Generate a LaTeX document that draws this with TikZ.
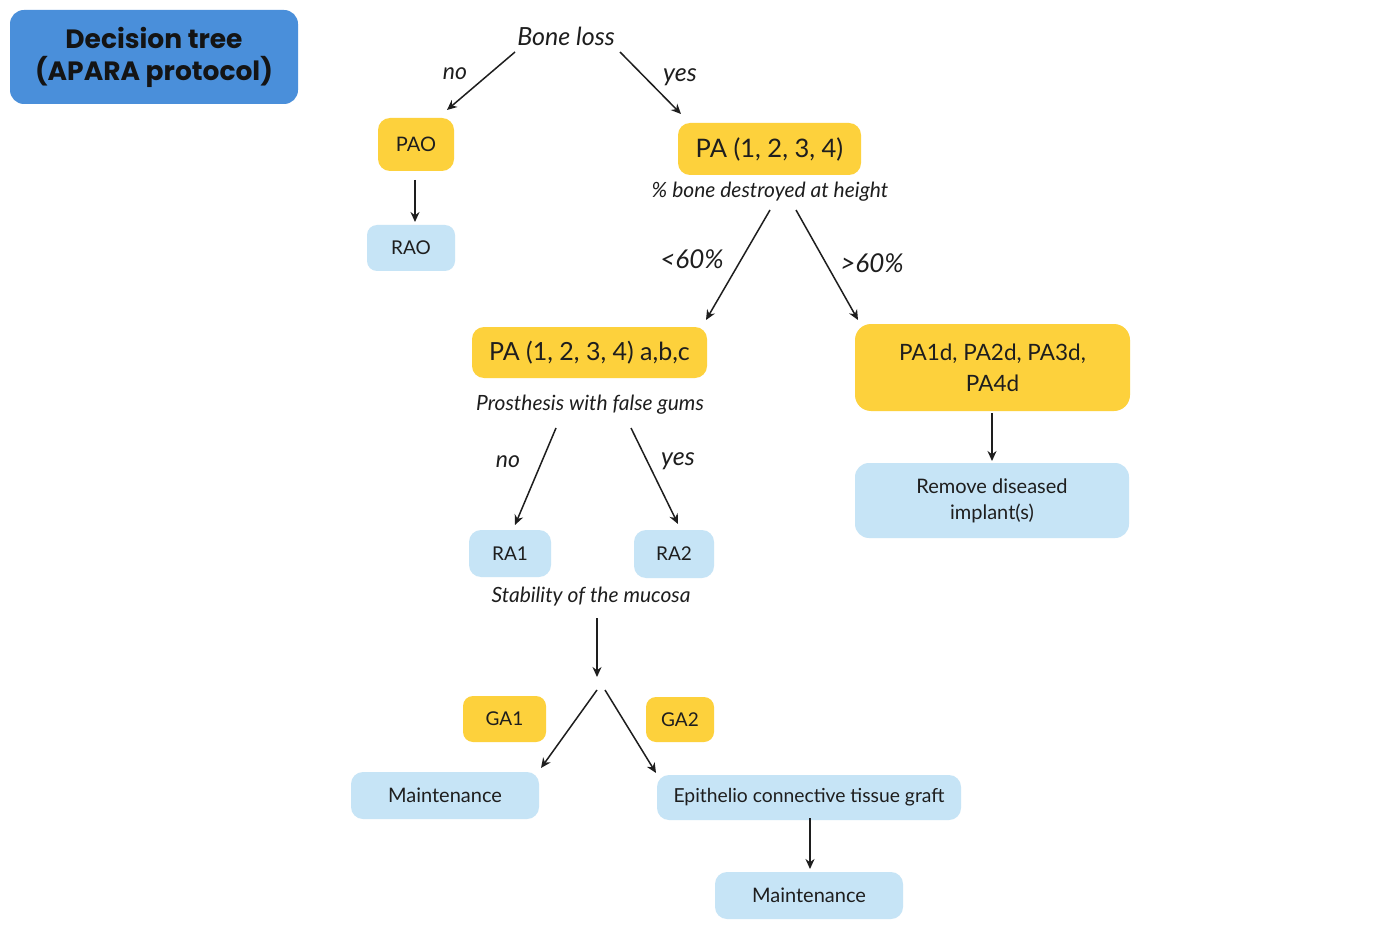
\documentclass[tikz,border=0pt]{standalone}
\usepackage{fontspec}
\setmainfont{Lato}
\newfontfamily\titlefont{Poppins}
\usetikzlibrary{arrows.meta}
\definecolor{ylw}{HTML}{FDD13C}
\definecolor{lblue}{HTML}{C6E4F6}
\definecolor{tblue}{HTML}{4A8FDA}
\definecolor{ink}{HTML}{1E1E1E}
\begin{document}
\begin{tikzpicture}[x=1pt,y=-1pt,
  box/.style={rounded corners=12pt, inner sep=0pt, align=center, text=ink},
  ybox/.style={box, fill=ylw},
  bbox/.style={box, fill=lblue},
  lbl/.style={text=ink, font=\itshape\fontsize{25}{29}\selectfont, inner sep=0pt},
  qlbl/.style={text=ink, font=\itshape\fontsize{21}{25}\selectfont, inner sep=0pt},
  arr/.style={draw=ink, line width=1.5pt, -{Stealth[length=10pt,width=9pt]}}]
\fill[white] (0,0) rectangle (1384,933);
\useasboundingbox (0,0) rectangle (1384,933);

% title
\node[fill=tblue, rounded corners=14pt, minimum width=288pt, minimum height=94pt,
      align=center, text=black!92, font=\titlefont\bfseries\fontsize{26.5}{32}\selectfont]
      (title) at (154,57) {Decision tree\\(APARA protocol)};

% question labels
\node[lbl] (bl) at (566,36) {Bone loss};
\node[qlbl] (bd) at (770,192) {\% bone destroyed at height};
\node[qlbl] (pf) at (590,405) {Prosthesis with false gums};
\node[qlbl] (sm) at (591,597) {Stability of the mucosa};

% boxes
\node[ybox, minimum width=76pt, minimum height=53pt, font=\fontsize{20}{24}\selectfont] (pa0) at (416,144.5) {PAO};
\node[bbox, rounded corners=10pt, minimum width=88pt, minimum height=46pt, font=\fontsize{19}{23}\selectfont] (ra0) at (411,248) {RAO};
\node[ybox, minimum width=183pt, minimum height=52pt, font=\fontsize{25.5}{30}\selectfont] (pa) at (769.5,149) {PA (1, 2, 3, 4)};
\node[ybox, minimum width=235pt, minimum height=51pt, font=\fontsize{25}{30}\selectfont] (pabc) at (589.5,352.5) {PA (1, 2, 3, 4) a,b,c};
\node[ybox, rounded corners=16pt, minimum width=275pt, minimum height=87pt, font=\fontsize{22.5}{31}\selectfont] (pad) at (992.5,367.5) {PA1d, PA2d, PA3d,\\PA4d};
\node[bbox, rounded corners=14pt, minimum width=274pt, minimum height=75pt, font=\fontsize{20}{26}\selectfont] (rem) at (992,500.5) {Remove diseased\\implant(s)};
\node[bbox, minimum width=82pt, minimum height=47pt, font=\fontsize{19}{23}\selectfont] (ra1) at (510,553.5) {RA1};
\node[bbox, minimum width=80pt, minimum height=48pt, font=\fontsize{19}{23}\selectfont] (ra2) at (674,554) {RA2};
\node[ybox, rounded corners=10pt, minimum width=83pt, minimum height=46pt, font=\fontsize{19}{23}\selectfont] (ga1) at (504.5,719) {GA1};
\node[ybox, rounded corners=10pt, minimum width=68pt, minimum height=45pt, font=\fontsize{19}{23}\selectfont] (ga2) at (680,719.5) {GA2};
\node[bbox, minimum width=188pt, minimum height=47pt, font=\fontsize{20}{24}\selectfont] (m1) at (445,795.5) {Maintenance};
\node[bbox, minimum width=304pt, minimum height=45pt, font=\fontsize{19.3}{24}\selectfont] (ect) at (809,797.5) {Epithelio connective tissue graft};
\node[bbox, minimum width=188pt, minimum height=47pt, font=\fontsize{20}{24}\selectfont] (m2) at (809,895.5) {Maintenance};

% connector end points
\coordinate (blL) at (515,52);   \coordinate (pa0T) at (447,110);
\coordinate (blR) at (620,52);   \coordinate (paT) at (681,114);
\coordinate (pa0B) at (415,180); \coordinate (ra0T) at (415,222);
\coordinate (bdL) at (770,210);  \coordinate (pabcT) at (706,320);
\coordinate (bdR) at (796,210);  \coordinate (padT) at (858,320);
\coordinate (padB) at (992,413); \coordinate (remT) at (992,461);
\coordinate (pfL) at (556,428);  \coordinate (ra1T) at (515,525);
\coordinate (pfR) at (631,428);  \coordinate (ra2T) at (678,524);
\coordinate (smB) at (597,618);  \coordinate (fork) at (597,677);
\coordinate (forkL) at (597,690); \coordinate (m1T) at (541,768);
\coordinate (forkR) at (605,690); \coordinate (ectT) at (656,773);
\coordinate (ectB) at (810,818); \coordinate (m2T) at (810,869);

\draw[arr] (blL) -- (pa0T);
\draw[arr] (blR) -- (paT);
\draw[arr] (pa0B) -- (ra0T);
\draw[arr] (bdL) -- (pabcT);
\draw[arr] (bdR) -- (padT);
\draw[arr] (padB) -- (remT);
\draw[arr] (pfL) -- (ra1T);
\draw[arr] (pfR) -- (ra2T);
\draw[arr] (smB) -- (fork);
\draw[arr] (forkL) -- (m1T);
\draw[arr] (forkR) -- (ectT);
\draw[arr] (ectB) -- (m2T);

% branch labels
\node[lbl, font=\itshape\fontsize{23}{27}\selectfont] (no1) at (455,74) {no};
\node[lbl] (yes1) at (680,77) {yes};
\node[lbl, font=\itshape\fontsize{26}{30}\selectfont] (lt) at (692,259) {<60\%};
\node[lbl, font=\itshape\fontsize{26}{30}\selectfont] (gt) at (872,263) {>60\%};
\node[lbl, font=\itshape\fontsize{23}{27}\selectfont] (no2) at (508,462) {no};
\node[lbl] (yes2) at (678,461) {yes};
\end{tikzpicture}
\end{document}
